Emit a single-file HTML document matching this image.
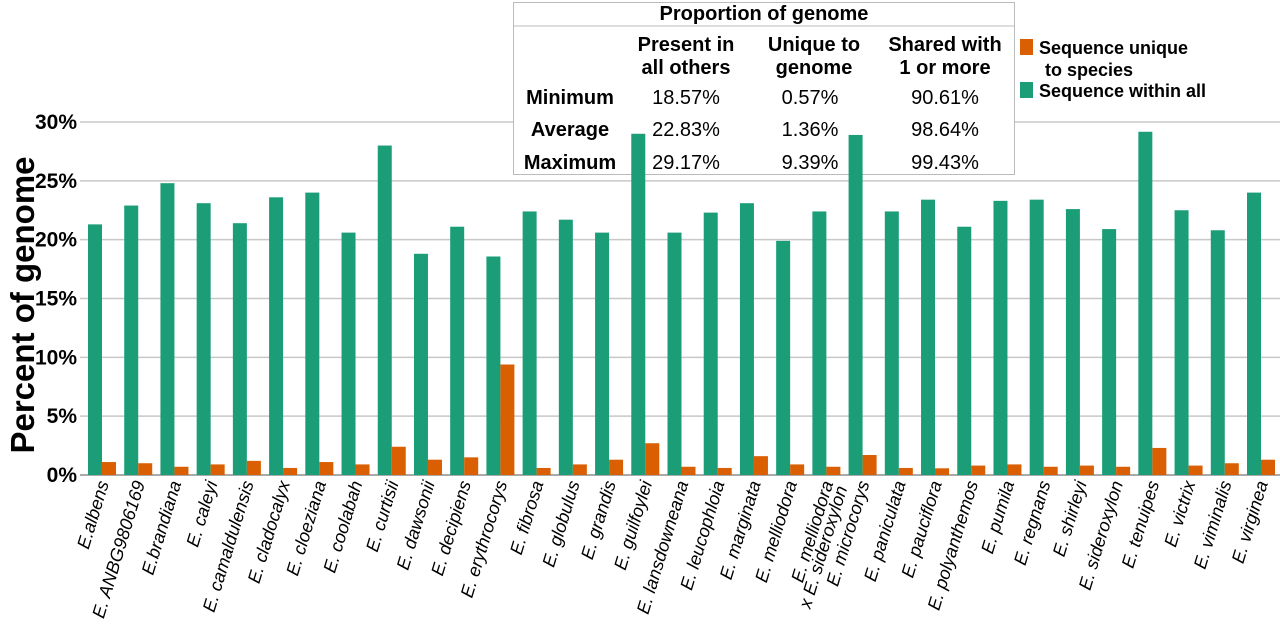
<!DOCTYPE html>
<html><head><meta charset="utf-8"><style>
html,body{margin:0;padding:0;background:#fff;width:1280px;height:636px;overflow:hidden}
svg{display:block;font-family:"Liberation Sans",sans-serif}
</style></head><body>
<svg id="chart" width="1280" height="636">
<g id="grid"></g>
<g>
<rect x="513.5" y="2.5" width="501" height="172" fill="#fff" stroke="#bbb" stroke-width="1"/>
<line x1="513.5" y1="26" x2="1014.5" y2="26" stroke="#bbb"/>
<text x="764" y="20" text-anchor="middle" font-size="20" font-weight="bold">Proportion of genome</text>
<g font-size="20" font-weight="bold" text-anchor="middle">
<text x="686" y="51">Present in</text>
<text x="686" y="74">all others</text>
<text x="814" y="51">Unique to</text>
<text x="814" y="74">genome</text>
<text x="945" y="51">Shared with</text>
<text x="945" y="74">1 or more</text>
<text x="570" y="104">Minimum</text>
<text x="570" y="136">Average</text>
<text x="570" y="169">Maximum</text>
</g>
<g font-size="20" text-anchor="middle">
<text x="686" y="104">18.57%</text><text x="810" y="104">0.57%</text><text x="945" y="104">90.61%</text>
<text x="686" y="136">22.83%</text><text x="810" y="136">1.36%</text><text x="945" y="136">98.64%</text>
<text x="686" y="169">29.17%</text><text x="810" y="169">9.39%</text><text x="945" y="169">99.43%</text>
</g>
</g>
<g id="bars"></g>
<g id="yticks"></g>
<g id="xlabels"></g>
<text transform="translate(34,305) rotate(-90)" text-anchor="middle" font-size="33" font-weight="bold">Percent of genome</text>
<g>
<rect x="1020" y="39" width="13" height="16" fill="#d95f02"/>
<text x="1039" y="54" font-size="18" font-weight="bold">Sequence unique</text>
<text x="1045" y="76" font-size="18" font-weight="bold">to species</text>
<rect x="1020" y="82" width="13" height="16" fill="#1b9e77"/>
<text x="1039" y="97" font-size="18" font-weight="bold">Sequence within all</text>
</g>
</svg>
<script>
const species=["E.albens","E. ANBG9806169","E.brandiana","E. caleyi","E. camaldulensis","E. cladocalyx","E. cloeziana","E. coolabah","E. curtisii","E. dawsonii","E. decipiens","E. erythrocorys","E. fibrosa","E. globulus","E. grandis","E. guilfoylei","E. lansdowneana","E. leucophloia","E. marginata","E. melliodora","E. melliodora|x E. sideroxylon","E. microcorys","E. paniculata","E. pauciflora","E. polyanthemos","E. pumila","E. regnans","E. shirleyi","E. sideroxylon","E. tenuipes","E. victrix","E. viminalis","E. virginea"];
const withinAll=[21.3,22.9,24.8,23.1,21.4,23.6,24.0,20.6,28.0,18.8,21.1,18.57,22.4,21.7,20.6,29.0,20.6,22.3,23.1,19.9,22.4,28.9,22.4,23.4,21.1,23.3,23.4,22.6,20.9,29.17,22.5,20.8,24.0];
const uniqueSp=[1.1,1.0,0.7,0.9,1.2,0.6,1.1,0.9,2.4,1.3,1.5,9.39,0.6,0.9,1.3,2.7,0.7,0.6,1.6,0.9,0.7,1.7,0.6,0.57,0.8,0.9,0.7,0.8,0.7,2.3,0.8,1.0,1.3];
const yTicks=[0,5,10,15,20,25,30];
const NS="http://www.w3.org/2000/svg";
const y0=475,pxPer=(475-122)/30;
const y=v=>y0-v*pxPer;
const step=(1247-88)/32;
const x=i=>88+i*step;
const bw=14;
function mk(t,a,p){const e=document.createElementNS(NS,t);for(const k in a)e.setAttribute(k,a[k]);p.appendChild(e);return e;}
const grid=document.getElementById('grid'),yt=document.getElementById('yticks'),bars=document.getElementById('bars'),xl=document.getElementById('xlabels');
yTicks.forEach(t=>{
  const l=mk('line',{x1:80,x2:1280,y1:y(t),y2:y(t),stroke:t===0?'#aaa':'#c8c8c8','stroke-width':t===0?2:1.5},grid);
  
  
  const tx=mk('text',{x:77,y:y(t)+7,'text-anchor':'end','font-size':21,'font-weight':'bold'},yt);
  tx.textContent=t+'%';
  
  
});
species.forEach((s,i)=>{
  const g=mk('rect',{x:x(i),y:y(withinAll[i]),width:bw,height:y0-y(withinAll[i]),fill:'#1b9e77'},bars);
  
  
  const o=mk('rect',{x:x(i)+bw,y:y(uniqueSp[i]),width:bw,height:y0-y(uniqueSp[i]),fill:'#d95f02'},bars);
  
  
  const cx=x(i)+bw+7, cy=483;
  const parts=s.split('|');
  parts.forEach((p,j)=>{
    const t=mk('text',{'text-anchor':'end','font-size':18,'font-style':'italic',transform:`translate(${cx+j*14},${cy+j*5}) rotate(-73)`},xl);
    t.textContent=p;
    
    
  });
});
</script>
</body></html>
